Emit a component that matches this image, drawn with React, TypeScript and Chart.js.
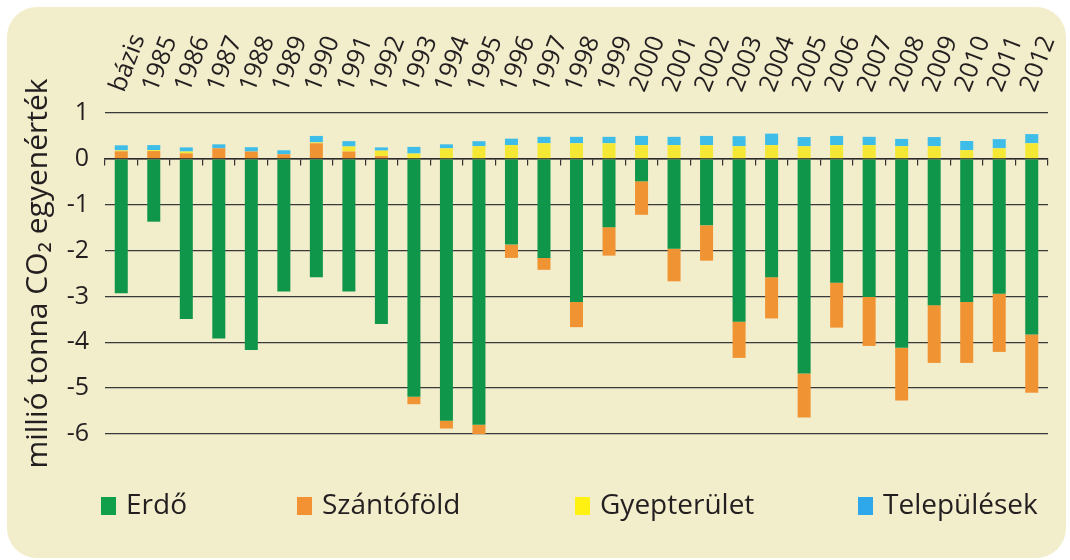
import React, { useEffect, useRef } from 'react';
import { Chart, registerables } from 'chart.js';

Chart.register(...registerables);

const categories = [
  'bázis', '1985', '1986', '1987', '1988', '1989', '1990', '1991', '1992', '1993',
  '1994', '1995', '1996', '1997', '1998', '1999', '2000', '2001', '2002', '2003',
  '2004', '2005', '2006', '2007', '2008', '2009', '2010', '2011', '2012',
];

const seriesLabels = ['Erdő', 'Szántóföld', 'Gyepterület', 'Települések'];

const erdo = [
  -2.93, -1.37, -3.49, -3.92, -4.17, -2.89, -2.58, -2.89, -3.6, -5.19,
  -5.71, -5.8, -1.87, -2.16, -3.12, -1.49, -0.49, -1.96, -1.45, -3.55,
  -2.58, -4.68, -2.7, -3.01, -4.12, -3.19, -3.12, -2.94, -3.83,
];

const szantofold = [
  0.165, 0.17, 0.12, 0.23, 0.16, 0.1, 0.34, 0.16, 0.06, -0.16,
  -0.17, -0.2, -0.29, -0.26, -0.55, -0.62, -0.73, -0.71, -0.77, -0.79,
  -0.9, -0.96, -0.98, -1.07, -1.15, -1.26, -1.33, -1.27, -1.27,
];

const gyepterulet = [
  0.02, 0.02, 0.04, 0, 0, 0, 0.02, 0.11, 0.12, 0.116,
  0.23, 0.275, 0.3, 0.34, 0.34, 0.34, 0.3, 0.3, 0.3, 0.275,
  0.3, 0.275, 0.3, 0.3, 0.275, 0.275, 0.19, 0.23, 0.34,
];

const telepulesek = [
  0.11, 0.11, 0.09, 0.087, 0.094, 0.087, 0.14, 0.116, 0.07, 0.145,
  0.087, 0.11, 0.14, 0.14, 0.14, 0.14, 0.2, 0.18, 0.2, 0.22,
  0.25, 0.2, 0.2, 0.18, 0.16, 0.2, 0.2, 0.2, 0.2,
];

const yMin = -6;
const yMax = 1;
const yStep = 1;

const FONT = "'Open Sans', sans-serif";
const TEXT = '#231f20';
const BAR_COLORS = ['#10964a', '#f09433', '#f5e834', '#3dbde8'];
const LEGEND_COLORS = ['#10a04c', '#f29232', '#fff212', '#2ea8ea'];
const LEGEND_X = [101, 297, 575, 858];

export default function App() {
  const ref = useRef<HTMLCanvasElement | null>(null);

  useEffect(() => {
    if (!ref.current) return;
    const legendPlugin = {
      id: 'customLegend',
      afterDraw(chart: any) {
        const ctx = chart.ctx;
        ctx.save();
        ctx.font = `28px ${FONT}`;
        ctx.textBaseline = 'middle';
        ctx.textAlign = 'left';
        chart.data.datasets.forEach((ds: any, i: number) => {
          ctx.fillStyle = LEGEND_COLORS[i];
          ctx.fillRect(LEGEND_X[i], 497, 15, 18);
          ctx.fillStyle = TEXT;
          ctx.fillText(ds.label, LEGEND_X[i] + 25, 506);
        });
        ctx.restore();
      },
    };

    const series = [erdo, szantofold, gyepterulet, telepulesek];
    const chart = new Chart(ref.current, {
      type: 'bar',
      data: {
        labels: categories,
        datasets: series.map((d, i) => ({
          label: seriesLabels[i],
          data: d,
          backgroundColor: BAR_COLORS[i],
          borderWidth: 0,
          xAxisID: 'x',
          yAxisID: 'y',
        })),
      },
      options: {
        responsive: false,
        animation: false,
        devicePixelRatio: 1,
        layout: { padding: { left: 10, top: 10, right: 22, bottom: 126 } },
        datasets: { bar: { categoryPercentage: 1, barPercentage: 0.4 } },
        plugins: {
          legend: { display: false },
          tooltip: { enabled: false },
        },
        scales: {
          x: {
            type: 'category',
            position: 'top',
            stacked: true,
            offset: true,
            grid: { display: false, drawTicks: false },
            border: { display: false },
            ticks: {
              autoSkip: false,
              minRotation: 69,
              maxRotation: 69,
              padding: 17,
              labelOffset: 24,
              color: TEXT,
              font: { family: FONT, size: 25 },
            },
            afterFit: (s: any) => {
              s.height = 103;
              s.paddingLeft = 0;
              s.paddingRight = 0;
            },
          },
          x2: {
            type: 'category',
            labels: categories,
            position: { y: 0 },
            offset: true,
            grid: {
              display: true,
              drawOnChartArea: false,
              drawTicks: true,
              tickLength: 6,
              offset: true,
              color: '#333',
              lineWidth: 1.2,
            },
            border: { display: true, color: '#2a2a2a', width: 1.5 },
            ticks: { display: false },
          } as any,
          y: {
            min: yMin,
            max: yMax,
            stacked: true,
            position: 'left',
            ticks: {
              stepSize: yStep,
              padding: 16,
              color: TEXT,
              font: { family: FONT, size: 25 },
            },
            grid: { color: '#3a3a3a', lineWidth: 1.3, drawTicks: false },
            border: { display: false },
            title: {
              display: true,
              text: 'millió tonna CO₂ egyenérték',
              color: TEXT,
              font: { family: FONT, size: 30 },
              padding: { top: 10, bottom: 0 },
            },
            afterFit: (s: any) => {
              s.width = 95;
            },
          },
        },
      } as any,
      plugins: [legendPlugin],
    });
    return () => chart.destroy();
  }, []);

  return (
    <div style={{ position: 'fixed', left: 0, top: 0, width: 1070, height: 560, background: '#ffffff', overflow: 'hidden' }}>
      <div
        style={{
          position: 'absolute',
          left: 7,
          top: 7,
          width: 1059,
          height: 551,
          background: '#f2edcb',
          borderRadius: 30,
        }}
      />
      <canvas ref={ref} width={1070} height={560} style={{ position: 'absolute', left: 0, top: 0 }} />
    </div>
  );
}
